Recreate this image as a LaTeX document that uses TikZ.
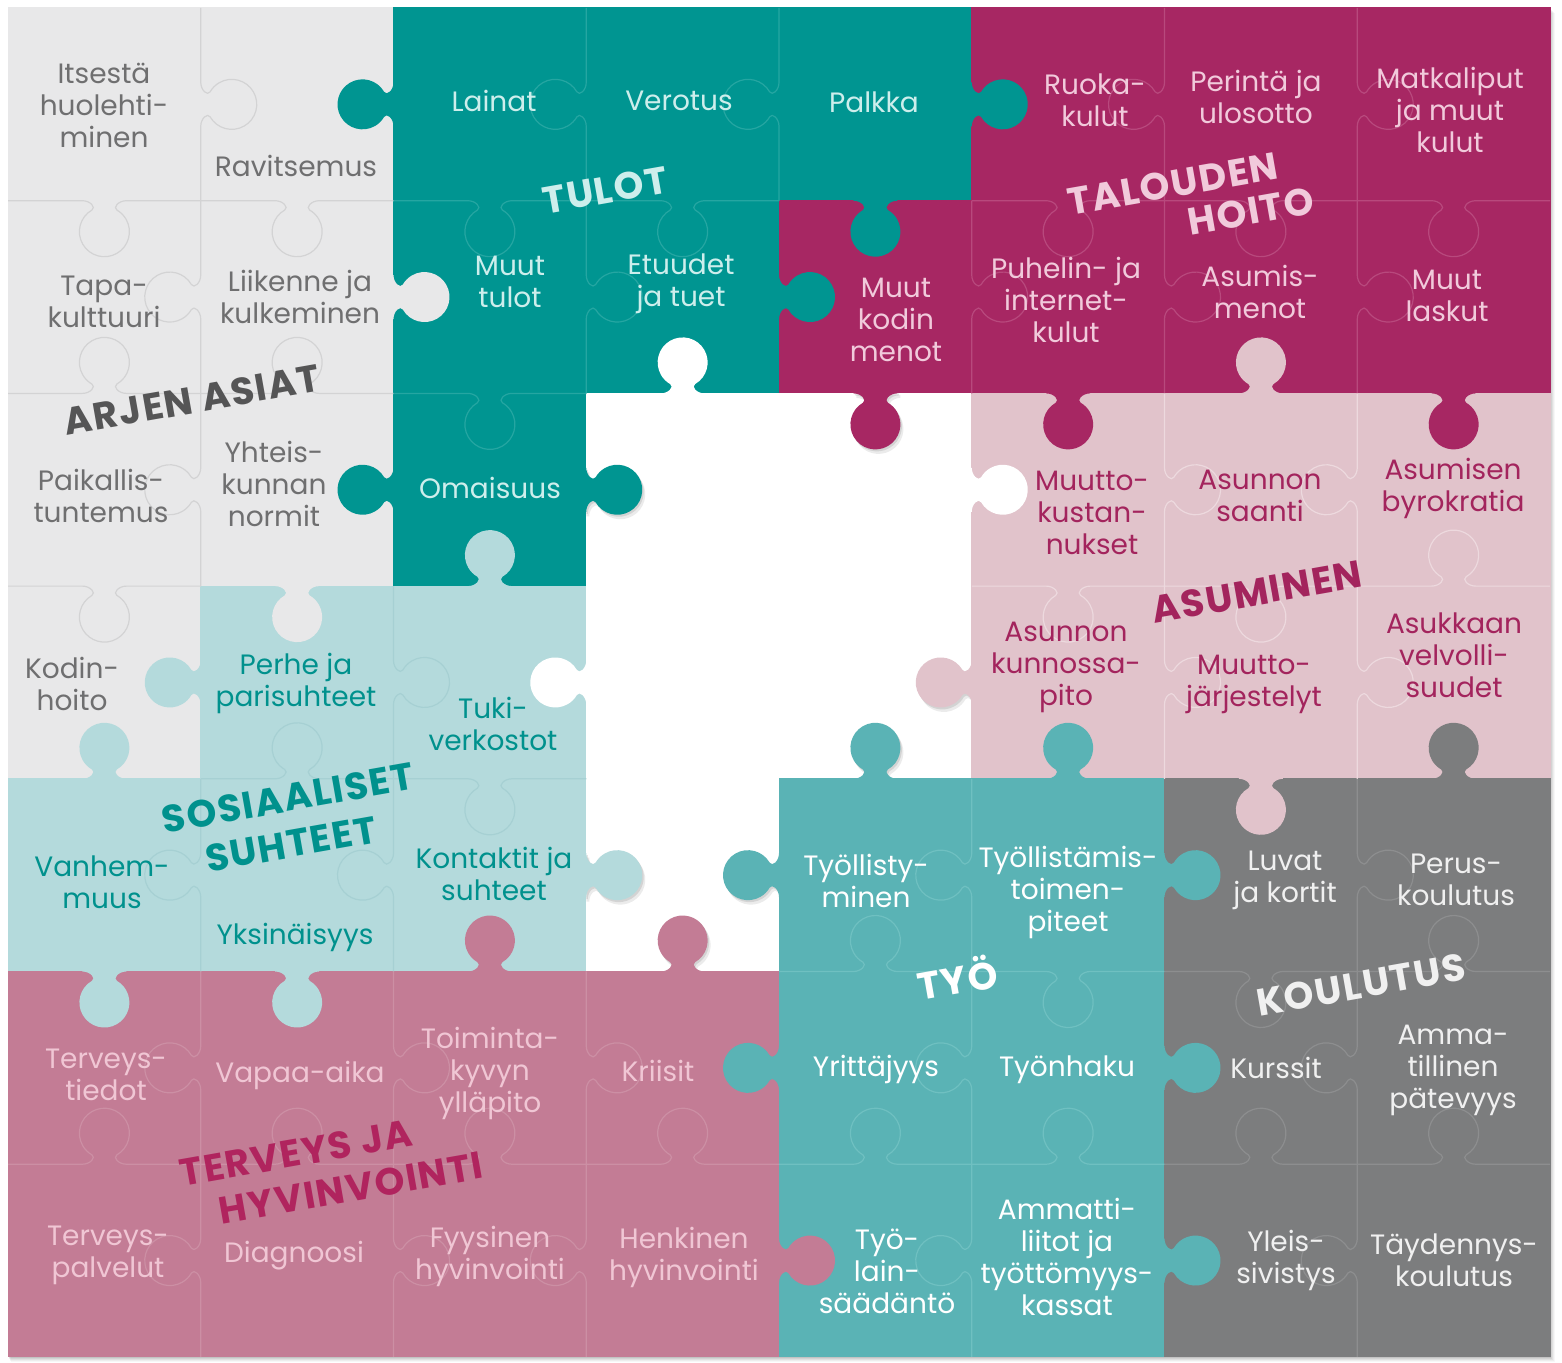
\documentclass[tikz,border=0pt]{standalone}
\usepackage{fontspec}
\setmainfont{Poppins}
\newfontfamily\grpfont{Poppins}[LetterSpace=4]
% fills
\definecolor{cL}{HTML}{E8E8E9}
\definecolor{cT}{HTML}{009591}
\definecolor{cM}{HTML}{A72763}
\definecolor{cP}{HTML}{E1C3CB}
\definecolor{cA}{HTML}{B4DADC}
\definecolor{cD}{HTML}{5AB3B5}
\definecolor{cG}{HTML}{7C7D7E}
\definecolor{cR}{HTML}{C37C95}
% faint piece lines
\definecolor{lL}{HTML}{D3D3D4}
\definecolor{lT}{HTML}{25A6A2}
\definecolor{lM}{HTML}{B8497D}
\definecolor{lP}{HTML}{EDD9DE}
\definecolor{lA}{HTML}{A6D0D3}
\definecolor{lD}{HTML}{6FC0C1}
\definecolor{lG}{HTML}{8D8E8F}
\definecolor{lR}{HTML}{CC8FA4}
% texts
\definecolor{tL}{HTML}{6F6F70}
\definecolor{tT}{HTML}{CDEEEC}
\definecolor{tM}{HTML}{F1CADB}
\definecolor{tP}{HTML}{A3245D}
\definecolor{tA}{HTML}{00918D}
\definecolor{tD}{HTML}{FFFFFF}
\definecolor{tG}{HTML}{F0F0F0}
\definecolor{tR}{HTML}{F0C6D4}
% group labels
\definecolor{gL}{HTML}{555556}
\definecolor{gR}{HTML}{B0245E}

\tikzset{
  cell/.style={font=\fontsize{28}{32}\selectfont, align=center, inner sep=0pt},
  grp/.style={font=\grpfont\fontsize{38}{42}\selectfont\bfseries, align=center, rotate=10, inner sep=0pt},
  pieceline/.style={line width=1.2pt},
}

\newcommand\cellfill[3]{\fill[#3] ({8+192.75*#1-0.5},{8+192.7*#2-0.5}) rectangle ({8+192.75*(#1+1)+0.5},{8+192.7*(#2+1)+0.5});}
\newcommand\knobfill[4]{%
  \fill[#4, shift={({#1},{#2})}, rotate=#3, x=1pt, y=1pt] (-3,-22) -- (0,-22) .. controls (0,-14) and (6.85,-8.2) .. (9.35,-12.5) arc[start angle=210,end angle=510,radius=25] .. controls (6.85,8.2) and (0,14) .. (0,22) -- (-3,22) -- cycle;}
\newcommand\knobline[4]{%
  \draw[pieceline, #4, shift={({#1},{#2})}, rotate=#3, x=1pt, y=1pt] (0,-96.4) -- (0,-22) .. controls (0,-14) and (6.85,-8.2) .. (9.35,-12.5) arc[start angle=210,end angle=510,radius=25] .. controls (6.85,8.2) and (0,14) .. (0,22) -- (0,96.4);}
\newcommand\vposition[2]{\pgfmathsetmacro\ex{8+192.75*(#1+1)}\pgfmathsetmacro\ey{8+192.7*#2+96.35}}
\newcommand\hposition[2]{\pgfmathsetmacro\ex{8+192.75*#1+96.4}\pgfmathsetmacro\ey{8+192.7*(#2+1)}}
\newcommand\kV[4]{\vposition{#1}{#2}\knobfill{\ex}{\ey}{#3}{#4}}
\newcommand\lV[4]{\vposition{#1}{#2}\knobline{\ex}{\ey}{#3}{#4}}
\newcommand\kH[4]{\hposition{#1}{#2}\knobfill{\ex}{\ey}{#3}{#4}}
\newcommand\lH[4]{\hposition{#1}{#2}\knobline{\ex}{\ey}{#3}{#4}}
\newcommand\sV[3]{\vposition{#1}{#2}\knobfill{\ex+1.5}{\ey+2}{#3}{black,opacity=.10}\knobfill{\ex+3}{\ey+4.5}{#3}{black,opacity=.08}}
\newcommand\sH[3]{\hposition{#1}{#2}\knobfill{\ex+1.5}{\ey+2}{#3}{black,opacity=.10}\knobfill{\ex+3}{\ey+4.5}{#3}{black,opacity=.08}}

\begin{document}
\begin{tikzpicture}[x=1pt,y=-1pt]
\useasboundingbox (0,0) rectangle (1562,1362);
\fill[white] (0,0) rectangle (1562,1362);
% soft outer shadow
\foreach \k/\o in {1/0.07,2/0.06,3/0.05,4/0.04,5/0.03}
  \fill[black,opacity=\o] ({8+\k*0.5},{8+\k}) rectangle ({1550+\k},{1357+\k*0.9});

% cells
\foreach \c/\r/\col in {
  0/0/cL,1/0/cL,2/0/cT,3/0/cT,4/0/cT,5/0/cM,6/0/cM,7/0/cM,
  0/1/cL,1/1/cL,2/1/cT,3/1/cT,4/1/cM,5/1/cM,6/1/cM,7/1/cM,
  0/2/cL,1/2/cL,2/2/cT,3/2/white,4/2/white,5/2/cP,6/2/cP,7/2/cP,
  0/3/cL,1/3/cA,2/3/cA,3/3/white,4/3/white,5/3/cP,6/3/cP,7/3/cP,
  0/4/cA,1/4/cA,2/4/cA,3/4/white,4/4/cD,5/4/cD,6/4/cG,7/4/cG,
  0/5/cR,1/5/cR,2/5/cR,3/5/cR,4/5/cD,5/5/cD,6/5/cG,7/5/cG,
  0/6/cR,1/6/cR,2/6/cR,3/6/cR,4/6/cD,5/6/cD,6/6/cG,7/6/cG}
  {\cellfill{\c}{\r}{\col}}

% shadows of knobs reaching into the empty middle (kept inside the hole)
\begin{scope}
\clip (586.25,393.4) -- (971.75,393.4) -- (971.75,778.8) -- (779,778.8) -- (779,971.5) -- (586.25,971.5) -- cycle;
\sV{2}{2}{0}\sV{4}{3}{180}\sV{2}{4}{0}\sV{3}{4}{180}
\sH{4}{1}{270}\sH{4}{3}{90}\sH{3}{4}{90}
\end{scope}

% knobs between differently coloured pieces
\foreach \c/\r/\a/\col in {
  1/0/180/cT, 4/0/0/cT,
  1/1/0/cL, 3/1/0/cT,
  1/2/180/cT, 2/2/0/cT, 4/2/0/white,
  0/3/180/cA, 2/3/180/white, 4/3/180/cP,
  2/4/0/cA, 3/4/180/cD, 5/4/0/cD,
  3/5/180/cD, 5/5/0/cD,
  3/6/0/cR, 5/6/0/cD}
  {\kV{\c}{\r}{\a}{\col}}
\foreach \c/\r/\a/\col in {
  4/0/270/cT,
  3/1/90/white, 4/1/270/cM, 5/1/270/cM, 6/1/90/cP, 7/1/270/cM,
  1/2/270/cL, 2/2/90/cA,
  0/3/90/cA, 4/3/90/cD, 5/3/90/cD, 6/3/270/cP, 7/3/90/cG,
  0/4/270/cA, 1/4/270/cA, 2/4/90/cR, 3/4/90/cR}
  {\kH{\c}{\r}{\a}{\col}}

% faint cuts between pieces of the same colour
\foreach \c/\r/\a/\col in {
  0/0/0/lL, 2/0/180/lT, 3/0/180/lT, 5/0/180/lM, 6/0/0/lM,
  0/1/180/lL, 2/1/0/lT, 4/1/0/lM, 5/1/0/lM, 6/1/0/lM,
  0/2/180/lL, 5/2/0/lP, 6/2/180/lP,
  1/3/0/lA, 5/3/0/lP, 6/3/0/lP,
  0/4/180/lA, 1/4/180/lA, 4/4/180/lD, 6/4/0/lG,
  0/5/180/lR, 1/5/0/lR, 2/5/0/lR, 4/5/180/lD, 6/5/180/lG,
  0/6/180/lR, 1/6/0/lR, 2/6/180/lR, 4/6/180/lD, 6/6/180/lG}
  {\lV{\c}{\r}{\a}{\col}}
\foreach \c/\r/\a/\col in {
  0/0/270/lL, 1/0/270/lL, 2/0/270/lT, 3/0/270/lT, 5/0/270/lM, 6/0/270/lM, 7/0/270/lM,
  0/1/90/lL, 1/1/90/lL, 2/1/270/lT,
  0/2/270/lL, 5/2/270/lP, 6/2/270/lP, 7/2/90/lP,
  1/3/90/lA, 2/3/270/lA,
  4/4/90/lD, 5/4/270/lD, 6/4/270/lG, 7/4/90/lG,
  0/5/90/lR, 1/5/90/lR, 2/5/90/lR, 3/5/90/lR, 4/5/90/lD, 5/5/90/lD, 6/5/90/lG, 7/5/90/lG}
  {\lH{\c}{\r}{\a}{\col}}

% piece texts
\node[cell,text=tL] (c00) at (104,105) {Itsestä\\huolehti-\\minen};
\node[cell,text=tL] (c10) at (296,166) {Ravitsemus};
\node[cell,text=tT] (c20) at (494,101) {Lainat};
\node[cell,text=tT] (c30) at (679,101) {Verotus};
\node[cell,text=tT] (c40) at (874,102) {Palkka};
\node[cell,text=tM] (c50) at (1095,100) {Ruoka-\\kulut};
\node[cell,text=tM] (c60) at (1256,97) {Perintä ja\\ulosotto};
\node[cell,text=tM] (c70) at (1450,110) {Matkaliput\\ja muut\\kulut};

\node[cell,text=tL] (c01) at (104,302) {Tapa-\\kulttuuri};
\node[cell,text=tL] (c11) at (300,297) {Liikenne ja\\kulkeminen};
\node[cell,text=tT] (c21) at (510,282) {Muut\\tulot};
\node[cell,text=tT] (c31) at (681,284) {Etuudet\\ja tuet};
\node[cell,text=tM] (c41) at (896,320) {Muut\\kodin\\menot};
\node[cell,text=tM] (c51) at (1066,300) {Puhelin- ja\\internet-\\kulut};
\node[cell,text=tM] (c61) at (1260,292) {Asumis-\\menot};
\node[cell,text=tM] (c71) at (1447,296) {Muut\\laskut};

\node[cell,text=tL] (c02) at (101,496) {Paikallis-\\tuntemus};
\node[cell,text=tL] (c12) at (274,484) {Yhteis-\\kunnan\\normit};
\node[cell,text=tT] (c22) at (490,488) {Omaisuus};
\node[cell,text=tP] (c52) at (1092,513) {Muutto-\\kustan-\\nukset};
\node[cell,text=tP] (c62) at (1260,496) {Asunnon\\saanti};
\node[cell,text=tP] (c72) at (1453,488) {Asumisen\\byrokratia};

\node[cell,text=tL] (c03) at (72,684) {Kodin-\\hoito};
\node[cell,text=tA] (c13) at (296,683) {Perhe ja\\parisuhteet};
\node[cell,text=tA] (c23) at (493,724) {Tuki-\\verkostot};
\node[cell,text=tP] (c53) at (1066,667) {Asunnon\\kunnossa-\\pito};
\node[cell,text=tP] (c63) at (1254,684) {Muutto-\\järjestelyt};
\node[cell,text=tP] (c73) at (1454,655) {Asukkaan\\velvolli-\\suudet};

\node[cell,text=tA] (c04) at (102,882) {Vanhem-\\muus};
\node[cell,text=tA] (c14) at (295,937) {Yksinäisyys};
\node[cell,text=tA] (c24) at (494,874) {Kontaktit ja\\suhteet};
\node[cell,text=tD] (c44) at (866,881) {Työllisty-\\minen};
\node[cell,text=tD] (c54) at (1068,892) {Työllistämis-\\toimen-\\piteet};
\node[cell,text=tG] (c64) at (1285,880) {Luvat\\ja kortit};
\node[cell,text=tG] (c74) at (1456,880) {Perus-\\koulutus};

\node[cell,text=tR] (c05) at (106,1075) {Terveys-\\tiedot};
\node[cell,text=tR] (c15) at (300,1075) {Vapaa-aika};
\node[cell,text=tR] (c25) at (490,1073) {Toiminta-\\kyvyn\\ylläpito};
\node[cell,text=tR] (c35) at (658,1071) {Kriisit};
\node[cell,text=tD] (c45) at (876,1069) {Yrittäjyys};
\node[cell,text=tD] (c55) at (1067,1070) {Työnhaku};
\node[cell,text=tG] (c65) at (1276,1068) {Kurssit};
\node[cell,text=tG] (c75) at (1453,1070) {Amma-\\tillinen\\pätevyys};

\node[cell,text=tR] (c06) at (108,1255) {Terveys-\\palvelut};
\node[cell,text=tR] (c16) at (294,1256) {Diagnoosi};
\node[cell,text=tR] (c26) at (490,1256) {Fyysinen\\hyvinvointi};
\node[cell,text=tR] (c36) at (684,1257) {Henkinen\\hyvinvointi};
\node[cell,text=tD] (c46) at (887,1271) {Työ-\\lain-\\säädäntö};
\node[cell,text=tD] (c56) at (1067,1257) {Ammatti-\\liitot ja\\työttömyys-\\kassat};
\node[cell,text=tG] (c66) at (1286,1260) {Yleis-\\sivistys};
\node[cell,text=tG] (c76) at (1454,1260) {Täydennys-\\koulutus};

% group labels
\node[grp,text=gL] (gArjen) at (192,400) {ARJEN ASIAT};
\node[grp,text=tT] (gTulot) at (605,190) {TULOT};
\node[grp,text=tM] (gTal1) at (1173,184) {TALOUDEN};
\node[grp,text=tM] (gTal2) at (1251,211) {HOITO};
\node[grp,text=tP] (gAsum) at (1257,592) {ASUMINEN};
\node[grp,text=tA] (gSos1) at (288,798) {SOSIAALISET};
\node[grp,text=tA] (gSos2) at (291,844) {SUHTEET};
\node[grp,text=tD] (gTyo) at (957,977) {TYÖ};
\node[grp,text=tG] (gKoul) at (1361,985) {KOULUTUS};
\node[grp,text=gR] (gTer1) at (296,1153) {TERVEYS JA};
\node[grp,text=gR] (gTer2) at (351,1188) {HYVINVOINTI};
\end{tikzpicture}
\end{document}
